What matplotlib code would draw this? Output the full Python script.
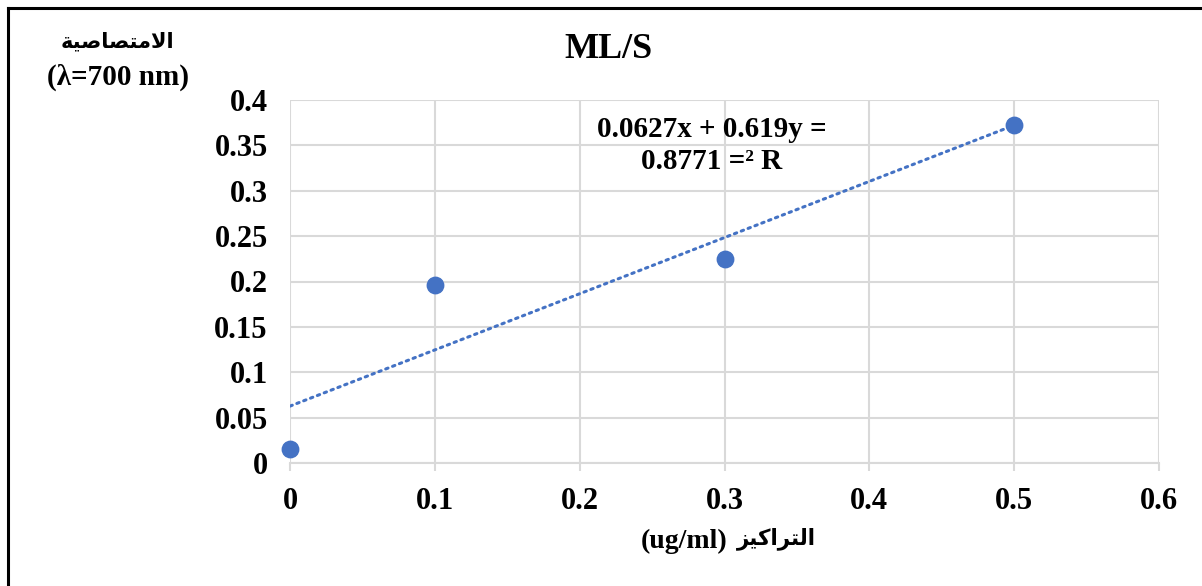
import matplotlib
matplotlib.use("Agg")
import matplotlib.pyplot as plt
from matplotlib.lines import Line2D

# data
conc = [0.0, 0.1, 0.3, 0.5]
absorb = [0.015, 0.196, 0.225, 0.372]

# trendline as printed on the chart
slope = 0.619
intercept = 0.0627
fit_x = [0.0, 0.5]

x_ticks = [0, 0.1, 0.2, 0.3, 0.4, 0.5, 0.6]
x_tick_labels = ["0", "0.1", "0.2", "0.3", "0.4", "0.5", "0.6"]
y_ticks = [0, 0.05, 0.1, 0.15, 0.2, 0.25, 0.3, 0.35, 0.4]
y_tick_labels = ["0", "0.05", "0.1", "0.15", "0.2", "0.25", "0.3", "0.35", "0.4"]

# Arabic words written with presentation forms in visual order (matplotlib does no shaping)
ar_absorb = "\uFE94\uFEF4\uFEBB\uFE8E\uFEBC\uFE98\uFEE3\uFEFB\uFE8D"    # الامتصاصية
ar_conc = "\uFEB0\uFEF4\uFEDB\uFE8D\uFEAE\uFE98\uFEDF\uFE8D"            # التراكيز

FONT = ["Liberation Serif", "DejaVu Sans"]
plt.rcParams["font.family"] = FONT
plt.rcParams["font.weight"] = "bold"

BLUE = "#4472C4"
GRID = "#D9D9D9"

fig = plt.figure(figsize=(12.02, 5.86), dpi=100)
ax = fig.add_axes([290 / 1202, 1 - 463 / 586, (1159 - 290) / 1202, (463 - 100) / 586])

ax.set_xlim(0, 0.6)
ax.set_ylim(0, 0.4)
ax.set_xticks(x_ticks)
ax.set_xticklabels(x_tick_labels)
ax.set_yticks(y_ticks)
ax.set_yticklabels(y_tick_labels)
ax.grid(True, color=GRID, linewidth=1.5)
ax.set_axisbelow(True)
for s in ["top", "right", "left"]:
    ax.spines[s].set_visible(False)
ax.spines["bottom"].set_color(GRID)
ax.spines["bottom"].set_linewidth(1.5)
ax.tick_params(axis="x", length=6, width=1.5, color=GRID, pad=11, labelsize=22)
ax.tick_params(axis="y", length=0, pad=16, labelsize=22)
for lab in ax.get_xticklabels() + ax.get_yticklabels():
    lab.set_fontweight("bold")

fit_y = [slope * v + intercept for v in fit_x]
ax.plot(fit_x, fit_y, color=BLUE, linewidth=2.2, linestyle=(0, (0.8, 1.6)),
        dash_capstyle="round", zorder=3)
ax.scatter(conc, absorb, s=140, color=BLUE, zorder=4, clip_on=False)

ax.text(0.291, 0.368, "0.0627x + 0.619y =", fontsize=21, fontweight="bold",
        ha="center", va="center", zorder=5)
ax.text(0.291, 0.332, "0.8771 =\u00b2 R", fontsize=21, fontweight="bold",
        ha="center", va="center", zorder=5)

fig.text(608 / 1202, 1 - 50 / 586, "ML/S", fontsize=26, fontweight="bold",
         ha="center", va="center")
fig.text(117 / 1202, 1 - 42 / 586, ar_absorb, fontsize=15, fontweight="bold",
         ha="center", va="center")
fig.text(118 / 1202, 1 - 77 / 586, "(\u03bb=700 nm)", fontsize=21, fontweight="bold",
         ha="center", va="center")
fig.text(728 / 1202, 1 - 541 / 586, "(ug/ml)", fontsize=20,
         fontweight="bold", ha="right", va="center")
fig.text(737 / 1202, 1 - 539 / 586, ar_conc, fontsize=15.5,
         fontweight="bold", ha="left", va="center")

# outer chart frame (top and left edges visible)
fig.add_artist(Line2D([8 / 1202, 1.0], [1 - 8 / 586, 1 - 8 / 586],
                      transform=fig.transFigure, color="black", linewidth=2.2))
fig.add_artist(Line2D([8 / 1202, 8 / 1202], [0.0, 1 - 8 / 586],
                      transform=fig.transFigure, color="black", linewidth=2.2))

fig.savefig("out.png", dpi=100)
